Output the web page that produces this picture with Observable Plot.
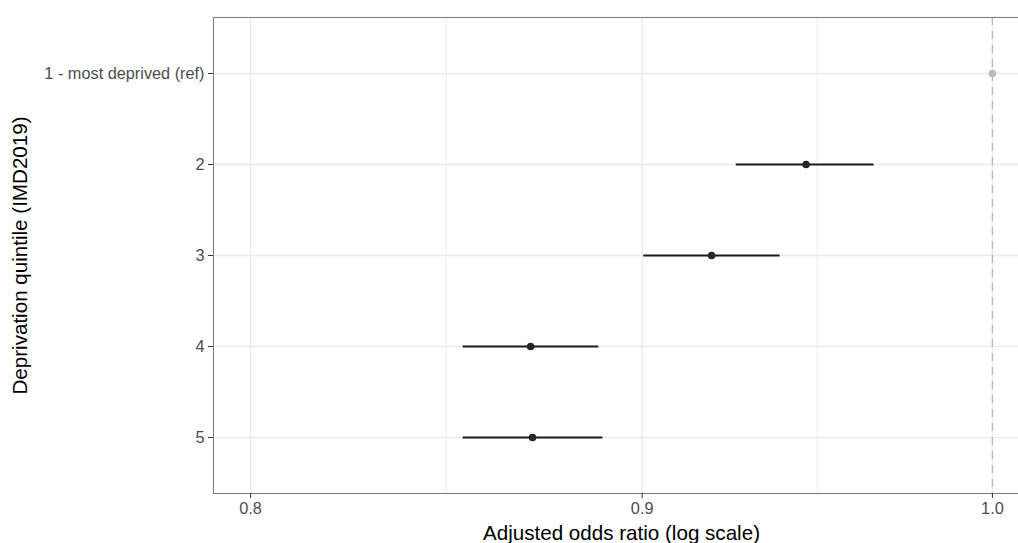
<!DOCTYPE html>
<html>
<head>
<meta charset="utf-8">
<script src="https://cdn.jsdelivr.net/npm/d3@7"></script>
<script src="https://cdn.jsdelivr.net/npm/@observablehq/plot@0.6"></script>
<style>
  html, body { margin: 0; padding: 0; background: #fff; overflow: hidden; }
  #chart { width: 1018px; height: 543px; overflow: hidden; position: relative; }
  #chart svg { display: block; overflow: hidden; }
</style>
</head>
<body>
<div id="chart"></div>
<script>
// Data
const categories = ["1 - most deprived (ref)", "2", "3", "4", "5"];
const oddsRatio  = [1.000, 0.9455, 0.919, 0.8703, 0.8708];
const ciLower    = [null, 0.9257, 0.9003, 0.8527, 0.8527];
const ciUpper    = [null, 0.9649, 0.9380, 0.8882, 0.8893];
const isRef      = [true, false, false, false, false];

const xTicks      = [0.8, 0.9, 1.0];
const xMinorTicks = [Math.sqrt(0.8 * 0.9), Math.sqrt(0.9 * 1.0)];
const xTitle = "Adjusted odds ratio (log scale)";
const yTitle = "Deprivation quintile (IMD2019)";

const rows = categories.map((c, i) => ({
  cat: c, or: oddsRatio[i], lo: ciLower[i], hi: ciUpper[i], ref: isRef[i]
}));
const est = rows.filter(d => !d.ref);
const ref = rows.filter(d => d.ref);

// ggplot-like 5% expansion on log scale between 0.8 and 1.0
const lmin = Math.log(0.8), lmax = Math.log(1.0);
const ex = (lmax - lmin) * 0.05;
const xDomain = [Math.exp(lmin - ex), Math.exp(lmax + ex)];

// The panel continues past the right edge of the picture (cropped reference).
const W = 1018, H = 543;
const mL = 213, mT = 17, mB = 50, mR = 0;
const panelRight = 1029;           // beyond the picture's right edge
const overflowR = panelRight - W;  // how far the panel runs out

const font = "'Liberation Sans', Arial, Helvetica, sans-serif";
const tickFs = 16.3, titleFs = 20.6;

const plot = Plot.plot({
  width: W,
  height: H,
  marginLeft: mL,
  marginTop: mT,
  marginBottom: mB,
  marginRight: mR,
  style: { fontFamily: font, fontSize: tickFs + "px", background: "#fff" },
  x: { type: "log", domain: xDomain, range: [mL, panelRight] },
  y: { type: "point", domain: categories, padding: 0.6 },
  marks: [
    // grid
    Plot.ruleX(xMinorTicks, { stroke: "#ebebeb", strokeWidth: 0.8 }),
    Plot.ruleX(xTicks, { stroke: "#ebebeb", strokeWidth: 1.4 }),
    Plot.ruleY(categories, { y: d => d, stroke: "#ebebeb", strokeWidth: 1.4 }),
    // reference line
    Plot.ruleX([1.0], { stroke: "#b8b8b8", strokeWidth: 1.3, strokeDasharray: "8,6" }),
    // CIs
    Plot.link(est, { x1: "lo", x2: "hi", y1: "cat", y2: "cat", stroke: "#1a1a1a", strokeWidth: 2.1 }),
    Plot.dot(est, { x: "or", y: "cat", r: 3.8, fill: "#262626", stroke: null }),
    Plot.dot(ref, { x: "or", y: "cat", r: 3.8, fill: "#bdbdbd", stroke: null }),
    // panel border; its right side runs off the picture
    Plot.frame({ stroke: "#7f7f7f", strokeWidth: 1.1, insetRight: -(overflowR + 2) }),
    // axes
    Plot.axisX({ ticks: xTicks, tickFormat: d3.format(".1f"), label: null,
      tickSize: 5, tickPadding: 4, fontSize: tickFs, color: "#4d4d4d", stroke: "#333" }),
    Plot.axisY({ ticks: categories, label: null,
      tickSize: 5, tickPadding: 4, fontSize: tickFs, color: "#4d4d4d", stroke: "#333" }),
    // titles
    Plot.text([xTitle], { frameAnchor: "bottom", dx: (panelRight - W) / 2, dy: 40, text: d => d,
      fontSize: titleFs, fill: "#000", lineAnchor: "middle", textAnchor: "middle" }),
    Plot.text([yTitle], { frameAnchor: "left", dx: -193, text: d => d, rotate: -90,
      fontSize: titleFs, fill: "#000", lineAnchor: "middle", textAnchor: "middle" })
  ]
});

document.getElementById("chart").appendChild(plot);
</script>
</body>
</html>
